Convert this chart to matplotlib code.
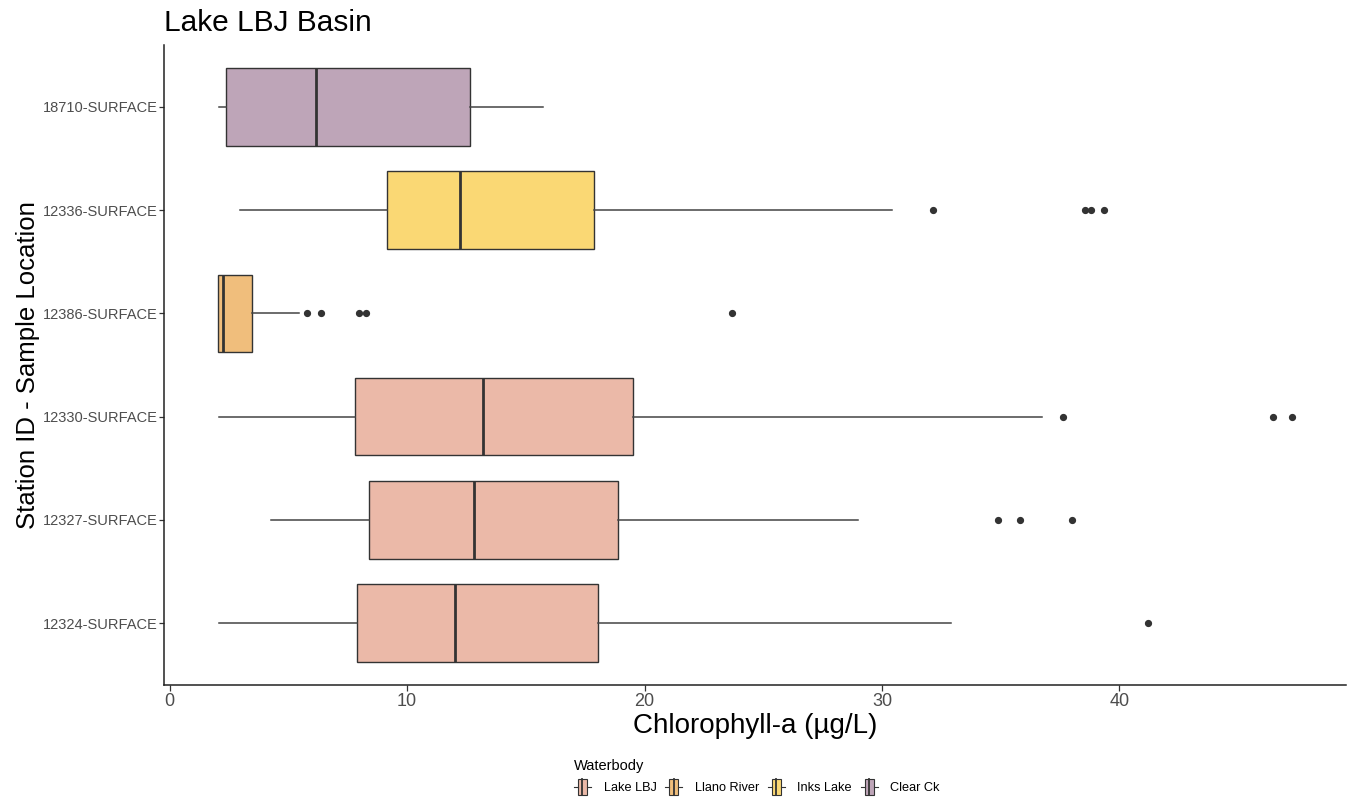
import matplotlib
matplotlib.use("Agg")
import matplotlib.pyplot as plt
from matplotlib.patches import Rectangle, Patch
from matplotlib.lines import Line2D
from matplotlib.legend_handler import HandlerBase

plt.rcParams['font.family'] = ['Liberation Sans', 'DejaVu Sans']

# stations listed bottom -> top
stations = ["12324-SURFACE", "12327-SURFACE", "12330-SURFACE",
            "12386-SURFACE", "12336-SURFACE", "18710-SURFACE"]
waterbody = ["Lake LBJ", "Lake LBJ", "Lake LBJ", "Llano River", "Inks Lake", "Clear Ck"]
whisker_low = [2.06, 4.25, 2.06, 2.02, 2.95, 2.06]
q1 = [7.87, 8.38, 7.79, 2.02, 9.14, 2.36]
median = [12.0, 12.8, 13.18, 2.26, 12.21, 6.15]
q3 = [18.02, 18.86, 19.5, 3.45, 17.85, 12.63]
whisker_high = [32.9, 29.0, 36.72, 5.43, 30.44, 15.7]
outliers = [[41.2],
            [34.9, 35.8, 38.0],
            [37.64, 46.48, 47.28],
            [5.77, 6.36, 7.96, 8.27, 23.7],
            [32.13, 38.53, 38.82, 39.33],
            []]

legend_order = ["Lake LBJ", "Llano River", "Inks Lake", "Clear Ck"]
colors = {"Lake LBJ": "#EBB9A8", "Llano River": "#F0BE7C",
          "Inks Lake": "#FAD874", "Clear Ck": "#BEA5B8"}
edge = "#333333"


class BoxKeyHandler(HandlerBase):
    def create_artists(self, legend, orig_handle, xdescent, ydescent,
                       width, height, fontsize, trans):
        x0, y0 = -xdescent, -ydescent
        fc = orig_handle.get_facecolor()
        box = Rectangle((x0 + 0.22 * width, y0), 0.56 * width, height,
                        facecolor=fc, edgecolor=edge, lw=0.8, transform=trans)
        med = Line2D([x0 + 0.5 * width] * 2, [y0, y0 + height], color=edge,
                     lw=1.3, transform=trans)
        wl = Line2D([x0, x0 + 0.22 * width], [y0 + height / 2] * 2, color=edge,
                    lw=0.8, transform=trans)
        wr = Line2D([x0 + 0.78 * width, x0 + width], [y0 + height / 2] * 2,
                    color=edge, lw=0.8, transform=trans)
        return [box, med, wl, wr]


fig = plt.figure(figsize=(13.54, 7.97), dpi=100)
ax = fig.add_axes([164 / 1354, 1 - 685 / 797, (1346 - 164) / 1354, (685 - 45) / 797])

stats = []
for i in range(len(stations)):
    stats.append({"whislo": whisker_low[i], "q1": q1[i], "med": median[i],
                  "q3": q3[i], "whishi": whisker_high[i], "fliers": outliers[i]})

bp = ax.bxp(stats, positions=range(len(stations)), vert=False, widths=0.75,
            patch_artist=True, showcaps=False,
            boxprops=dict(edgecolor=edge, linewidth=1.0),
            whiskerprops=dict(color="#444444", linewidth=1.1),
            medianprops=dict(color=edge, linewidth=2.0),
            flierprops=dict(marker="o", markerfacecolor=edge, markeredgecolor=edge,
                            markersize=4.2, linestyle="none"))
for patch, wb in zip(bp["boxes"], waterbody):
    patch.set_facecolor(colors[wb])

allvals = whisker_low + whisker_high + [v for o in outliers for v in o]
lo, hi = min(allvals), max(allvals)
pad = 0.05 * (hi - lo)
ax.set_xlim(lo - pad, hi + pad)
ax.set_ylim(-0.6, len(stations) - 0.4)
ax.set_xticks([0, 10, 20, 30, 40])
ax.set_yticks(range(len(stations)))
ax.set_yticklabels(stations)

for s in ["top", "right"]:
    ax.spines[s].set_visible(False)
for s in ["left", "bottom"]:
    ax.spines[s].set_color("#222222")
    ax.spines[s].set_linewidth(1.1)
ax.tick_params(axis="x", labelsize=13, labelcolor="#4D4D4D", color="#333333",
               length=4, width=0.9, pad=2)
ax.tick_params(axis="y", labelsize=10.5, labelcolor="#4D4D4D", color="#333333",
               length=3.5, width=0.9, pad=1)

ax.set_xlabel("Chlorophyll-a (µg/L)", fontsize=20, labelpad=2)
ax.set_ylabel("Station ID - Sample Location", fontsize=18.5, labelpad=2)
ax.set_title("Lake LBJ Basin", fontsize=21.5, loc="left", pad=10, x=0.0)

handles = [Patch(facecolor=colors[w], edgecolor=edge) for w in legend_order]
leg = fig.legend(handles, legend_order, handler_map={Patch: BoxKeyHandler()},
                 ncol=4, title="Waterbody", loc="center",
                 bbox_to_anchor=(757 / 1354, 1 - 777 / 797),
                 frameon=False, fontsize=9.2, title_fontsize=10.5,
                 handlelength=1.3, handleheight=1.6, handletextpad=1.0,
                 columnspacing=0.7, alignment="left", borderpad=0.1,
                 labelspacing=0.5)

fig.savefig("out.png", dpi=100)
